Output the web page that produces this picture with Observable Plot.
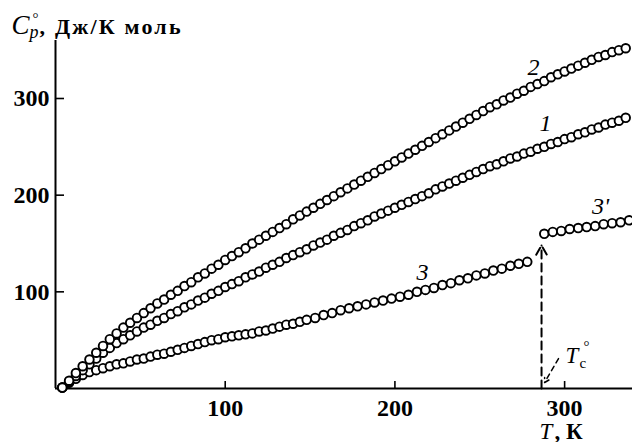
<!DOCTYPE html>
<html><head><meta charset="utf-8">
<script src="https://cdn.jsdelivr.net/npm/d3@7"></script>
<script src="https://cdn.jsdelivr.net/npm/@observablehq/plot@0.6"></script>
<style>
html,body{margin:0;padding:0;background:#fff;}
</style>
</head><body><div id="chart"></div>
<script>
// Temperatures (K) for curves 1 and 2
const T12 = [4,8,12,16,20,24,28,32,36,40,44,48,52,56,60,64,68,72,76,80,84,88,92,96,100,104,108,112,116,120,124,128,132,136,140,144,148,152,156,160,164,168,172,176,180,184,188,192,196,200,204,208,212,216,220,224,228,232,236,240,244,248,252,256,260,264,268,272,276,280,284,288,292,296,300,304,308,312,316,320,324,328,332,336];
// Curve 1 heat capacity
const cp1 = [1,7,13,19,25,31,37,42,47,51,55,59,63,66,70,73,77,80,84,87,91,94,98,101,105,108,111,115,118,121,125,128,131,135,138,141,144,148,151,154,158,161,164,168,171,174,178,181,184,187,190,193,196,199,202,206,209,212,215,218,221,224,227,230,232,235,238,240,243,245,248,250,253,255,258,260,263,265,268,270,273,275,277,280];
// Curve 2 heat capacity
const cp2 = [1,8,16,23,30,37,44,51,57,63,68,73,78,83,88,92,97,101,106,110,115,119,124,128,133,137,141,145,150,154,158,162,166,170,175,179,183,187,191,195,199,203,207,211,215,219,223,227,231,235,239,243,247,251,255,259,263,267,271,275,279,283,287,291,294,298,301,305,308,312,315,318,322,325,328,331,334,337,340,343,345,348,350,352];
// Curve 3 (below transition)
const T3 = [4,8,12,16,20,24,28,32,36,40,44,48,52,56,60,64,68,72,76,80,84,88,92,96,100,104,108,112,116,120,124,128,132,136,140,144,148,153,158,163,168,173,178,183,188,193,198,203,208,213,218,223,228,233,238,243,248,253,258,263,268,273,278];
const cp3 = [1,6,10,14,17,19,21,23,25,26,28,30,31,33,35,36,38,40,42,44,46,48,50,51,53,54,55,56,57,59,60,62,64,66,67,69,71,73,76,78,81,83,85,87,89,91,93,95,97,100,102,104,107,109,112,114,117,119,122,124,127,129,131];
// Curve 3' (above transition)
const T3p = [288,293,298,303,308,313,318,323,328,333,338];
const cp3p = [160,162,163,165,166,167,168,170,171,172,174];

const xTicks = [100, 200, 300];
const yTicks = [100, 200, 300];
const Tc = 286.4;
const TcArrowTop = 148;
const curveLabels = ["1", "2", "3", "3'"];
const curveLabelT = [288.7, 281.7, 216.3, 321.2];
const curveLabelCp = [274, 332, 120, 188];
const leaderT = [296.4, 288.2];
const leaderCp = [31, 6.2];

const pts = (T, cp) => T.map((t, i) => ({T: t, Cp: cp[i]}));
const serif = "'Liberation Serif','Times New Roman',serif";
const dotStyle = {x: "T", y: "Cp", r: 4.3, fill: "white", stroke: "black", strokeWidth: 1.9};
const labels = curveLabels.map((s, i) => ({s, T: curveLabelT[i], Cp: curveLabelCp[i]}));
const one = [0];

const chart = Plot.plot({
  width: 632, height: 442,
  marginLeft: 55, marginRight: 0, marginTop: 40, marginBottom: 54,
  x: {domain: [0, 340]},
  y: {domain: [0, 360]},
  style: {fontFamily: serif, background: "white", color: "black", fontSize: "24px"},
  marks: [
    Plot.axisX({ticks: xTicks, tickSize: 0, tickPadding: 10, label: null, fontSize: 24, fontWeight: "bold"}),
    Plot.axisY({ticks: yTicks, tickSize: 0, tickPadding: 6, label: null, fontSize: 24, fontWeight: "bold"}),
    Plot.ruleX([0], {stroke: "black", strokeWidth: 2}),
    Plot.ruleY([0], {stroke: "black", strokeWidth: 2}),
    Plot.ruleY(yTicks, {insetRight: 577 - 9, stroke: "black", strokeWidth: 1.6}),
    Plot.ruleX(xTicks, {insetTop: 348 - 7, stroke: "black", strokeWidth: 1.6}),
    // dashed transition arrow
    Plot.arrow([Tc], {x1: d => d, x2: d => d, y1: 0, y2: TcArrowTop, stroke: "black", strokeWidth: 2, strokeDasharray: "8,5", headLength: 8}),
    Plot.arrow([0], {x1: () => leaderT[0], y1: () => leaderCp[0], x2: () => leaderT[1], y2: () => leaderCp[1], stroke: "black", strokeWidth: 1.5, strokeDasharray: "5,4", headLength: 5}),
    Plot.dot(pts(T3, cp3), dotStyle),
    Plot.dot(pts(T3p, cp3p), dotStyle),
    Plot.dot(pts(T12, cp1), dotStyle),
    Plot.dot(pts(T12, cp2), dotStyle),
    Plot.text(labels, {x: "T", y: "Cp", text: "s", fontSize: 24, fontStyle: "italic", textAnchor: "middle", lineAnchor: "middle"}),
    // Tc label
    Plot.text([Tc], {x: d => d, y: 0, text: () => "T", dx: 24, dy: -26, textAnchor: "start", lineAnchor: "bottom", fontSize: 23, fontStyle: "italic"}),
    Plot.text([Tc], {x: d => d, y: 0, text: () => "c", dx: 38, dy: -21, textAnchor: "start", lineAnchor: "bottom", fontSize: 15}),
    Plot.text([Tc], {x: d => d, y: 0, text: () => "°", dx: 42, dy: -38, textAnchor: "start", lineAnchor: "bottom", fontSize: 15}),
    // y title
    Plot.text(one, {frameAnchor: "top-left", text: () => "C", dx: -44, dy: -7, textAnchor: "start", lineAnchor: "bottom", fontSize: 27, fontStyle: "italic"}),
    Plot.text(one, {frameAnchor: "top-left", text: () => "p", dx: -26, dy: -3, textAnchor: "start", lineAnchor: "bottom", fontSize: 18, fontStyle: "italic"}),
    Plot.text(one, {frameAnchor: "top-left", text: () => "°", dx: -23, dy: -18, textAnchor: "start", lineAnchor: "bottom", fontSize: 15}),
    Plot.text(one, {frameAnchor: "top-left", text: () => ", Дж/К моль", dx: -16, dy: -7, textAnchor: "start", lineAnchor: "bottom", fontSize: 22, fontWeight: "bold"}),
    // x title
    Plot.text(one, {frameAnchor: "bottom-right", text: () => "T", dx: -93, dy: 50, textAnchor: "start", lineAnchor: "bottom", fontSize: 23, fontStyle: "italic"}),
    Plot.text(one, {frameAnchor: "bottom-right", text: () => ", К", dx: -78, dy: 50, textAnchor: "start", lineAnchor: "bottom", fontSize: 23, fontWeight: "bold"})
  ]
});
// widen the spacing of the unit title as in the original typesetting
d3.select(chart).selectAll("text").filter(function() { return this.textContent === ", Дж/К моль"; }).attr("letter-spacing", "2.2px");
document.getElementById("chart").appendChild(chart);
</script>
</body></html>
